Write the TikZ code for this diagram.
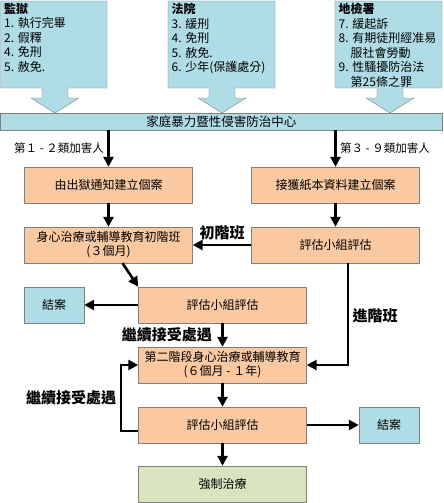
\documentclass[tikz,border=0pt]{standalone}
\usepackage{fontspec}
\setmainfont{Noto Sans CJK TC}
\usepackage{tikz}
\usetikzlibrary{positioning,calc,arrows.meta}
\definecolor{color-blue}{RGB}{176,220,230}
\definecolor{color-orange}{RGB}{250,201,162}
\definecolor{color-green}{RGB}{215,228,189}
\definecolor{color-line}{RGB}{128,128,128}

% box with a broad arrow pointing down to the centre bar
\newcommand{\sourcebox}[3]{%
  \filldraw[fill=color-blue, draw=color-line]
    (#1,1) -- (#2,1) -- (#2,88) -- ({#3+13},88) -- ({#3+13},98)
    -- ({#3+24},98) -- (#3,113) -- ({#3-24},98) -- ({#3-13},98)
    -- ({#3-13},88) -- (#1,88) -- cycle;}

\begin{document}
\begin{tikzpicture}[x=1pt, y=-1pt,
  box/.style={draw=color-line, inner sep=0pt, minimum height=36pt,
    align=center, font=\fontsize{12}{14}\selectfont},
  casebox/.style={box, fill=color-orange, minimum width=168pt},
  closebox/.style={box, fill=color-blue, minimum width=60pt},
  listtext/.style={anchor=north west, align=left, inner sep=2pt,
    font=\fontsize{12}{14.5}\selectfont},
  flow/.style={line width=2.6pt, -{Triangle[length=10pt,width=10pt]}},
  tag/.style={font=\fontsize{15}{15}\selectfont\bfseries},
  grouptag/.style={font=\fontsize{11.5}{12}\selectfont}]
\useasboundingbox (0,0) rectangle (444,503);

% sources
\sourcebox{0.5}{107}{55}
\sourcebox{168}{275}{222}
\sourcebox{335}{442}{390}
\node[listtext] (prison) at (2,1)
  {\textbf{監獄}\\1. 執行完畢\\2. 假釋\\4. 免刑\\5. 赦免.};
\node[listtext] (court) at (169.5,1)
  {\textbf{法院}\\3. 緩刑\\4. 免刑\\5. 赦免.\\6. 少年(保護處分)};
\node[listtext] (prosecutor) at (336.5,1)
  {\textbf{地檢署}\\7. 緩起訴\\8. 有期徒刑經准易\\\phantom{8.\,}服社會勞動\\9. 性騷擾防治法\\\phantom{9.\,}第25條之罪};

\node[box, fill=color-blue, minimum width=441.5pt, minimum height=17pt,
  font=\fontsize{12.5}{13}\selectfont] (center) at (221.25,121.5)
  {家庭暴力暨性侵害防治中心};

% case flow
\node[casebox] (notice) at (108.5,185) {由出獄通知建立個案};
\node[casebox] (paperfile) at (335.5,185) {接獲紙本資料建立個案};
\node[casebox] (basicclass) at (108.5,245) {身心治療或輔導教育初階班\\(３個月)};
\node[casebox] (evalright) at (335.5,245) {評估小組評估};
\node[closebox] (closeleft) at (54,305) {結案};
\node[casebox] (evalmid) at (222.5,305) {評估小組評估};
\node[casebox] (stagetwo) at (222.5,365) {第二階段身心治療或輔導教育\\(６個月 - １年)};
\node[casebox] (evalbottom) at (222.5,425) {評估小組評估};
\node[closebox] (closeright) at (389,425) {結案};
\node[box, fill=color-green, minimum width=168pt] (forced) at (222.5,484) {強制治療};

\draw[flow] (notice.north |- center.south) --
  node[midway, left, grouptag] {第１ - ２類加害人} (notice.north);
\draw[flow] (paperfile.north |- center.south) --
  node[midway, right, grouptag] {第３ - ９類加害人} (paperfile.north);
\draw[flow] (notice) -- (basicclass);
\draw[flow] (paperfile) -- (evalright);
\draw[flow] (evalright.west) -- node[midway, above, tag] {初階班} (basicclass.east);
\draw[flow] ([xshift=14pt]basicclass.south) -- (evalmid.north west);
\draw[flow] (evalmid.west) -- (closeleft.east);
\draw[flow] (evalmid.south) -- node[midway, left=6pt, tag] {繼續接受處遇} (stagetwo.north);
\draw[flow] ([xshift=12.5pt]evalright.south) |- node[pos=0.26, right, tag] {進階班} (stagetwo.east);
\draw[flow] (stagetwo) -- (evalbottom);
\draw[flow] (evalbottom.east) -- (closeright.west);
\draw[flow] (evalbottom) -- (forced);
\draw[flow] ([yshift=-6pt]evalbottom.west) -- ++(-17.5,0)
  |- node[pos=0.25, left, tag] {繼續接受處遇} (stagetwo.west);

\end{tikzpicture}
\end{document}
